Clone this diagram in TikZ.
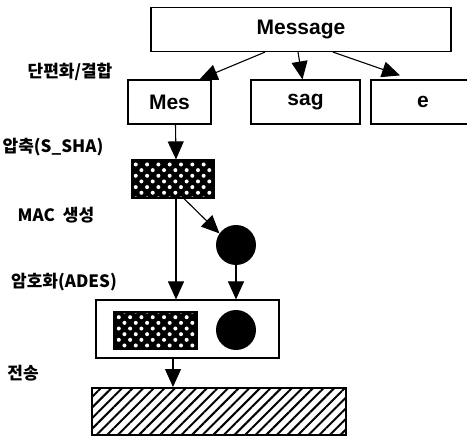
\documentclass[tikz,border=0pt]{standalone}
\usepackage{fontspec}
\setmainfont{Liberation Sans}
\newfontfamily\kr{Noto Sans CJK KR}
\usetikzlibrary{arrows.meta}
\usetikzlibrary{patterns.meta}

\begin{document}
\begin{tikzpicture}[x=1pt, y=-1pt,
    box/.style={draw, line width=1.2pt, inner sep=0pt, minimum height=44pt,
        font=\fontsize{21}{23}\selectfont\bfseries},
    lbl/.style={inner sep=0pt, font=\kr\bfseries\fontsize{17}{19}\selectfont},
    arr/.style={-{Triangle[width=16pt,length=18pt]}, line width=1.1pt},
    dotbox/.style={draw, line width=1.2pt, inner sep=0pt, preaction={fill=black},
        pattern={Dots[distance=8pt,radius=2pt,angle=45]}, pattern color=white},
    disc/.style={circle, fill=black, inner sep=0pt, minimum size=40pt}]
        \useasboundingbox (0,0) rectangle (467,436);
        \clip (0,0) rectangle (467,436);

        % Message et fragments
        \node[box, minimum width=300pt] (msg) at (301,29.5) {Message};
        \node[box, minimum width=83pt] (mes) at (169.5,102) {Mes};
        \node[box, minimum width=109pt] (sag) at (305.5,102) {sag};
        \node[box, minimum width=104pt] (e) at (423,102) {e};

        % Condensat et MAC
        \node[dotbox, minimum width=82pt, minimum height=38pt] (hash) at (173,179) {};
        \node[disc] (mac) at (236,245) {};

        % Bloc chiffre
        \node[draw, line width=1.2pt, minimum width=183pt, minimum height=58pt] (enc) at (187.5,329) {};
        \node[dotbox, minimum width=83pt, minimum height=37pt] (ehash) at (155.5,330.5) {};
        \node[disc] (emac) at (236,330) {};

        % Transmission
        \node[draw, line width=1.2pt, minimum width=254pt, minimum height=47pt,
            pattern={Lines[angle=45,distance=7.5pt,line width=2pt]}] (out) at (219,411.5) {};

        % Etapes
        \node[lbl] (l1) at (70,72) {단편화/결합};
        \node[lbl] (l2) at (53,147) {압축(S\_SHA)};
        \node[lbl] (l3) at (56,215) {MAC\hspace{8pt}생성};
        \node[lbl] (l4) at (64,282) {암호화(ADES)};
        \node[lbl] (l5) at (23,373) {전송};

        % Fleches
        \draw[arr] ([xshift=-36pt]msg.south) -- ([xshift=30pt]mes.north);
        \draw[arr] ([xshift=-3pt]msg.south) -- ([xshift=-3pt]sag.north);
        \draw[arr] ([xshift=32pt]msg.south) -- ([xshift=-23pt,yshift=4pt]e.north);
        \draw[arr] ([xshift=6pt]mes.south) -- ([xshift=3pt]hash.north);
        \draw[arr] ([xshift=3pt]hash.south) -- ([xshift=3pt]hash.south |- enc.north);
        \draw[arr] ([xshift=11pt]hash.south) -- (mac.145);
        \draw[arr] (mac.south) -- (mac.south |- enc.north);
        \draw[arr] ([xshift=-14.5pt]enc.south) -- ([xshift=-14.5pt]enc.south |- out.north);
\end{tikzpicture}
\end{document}
